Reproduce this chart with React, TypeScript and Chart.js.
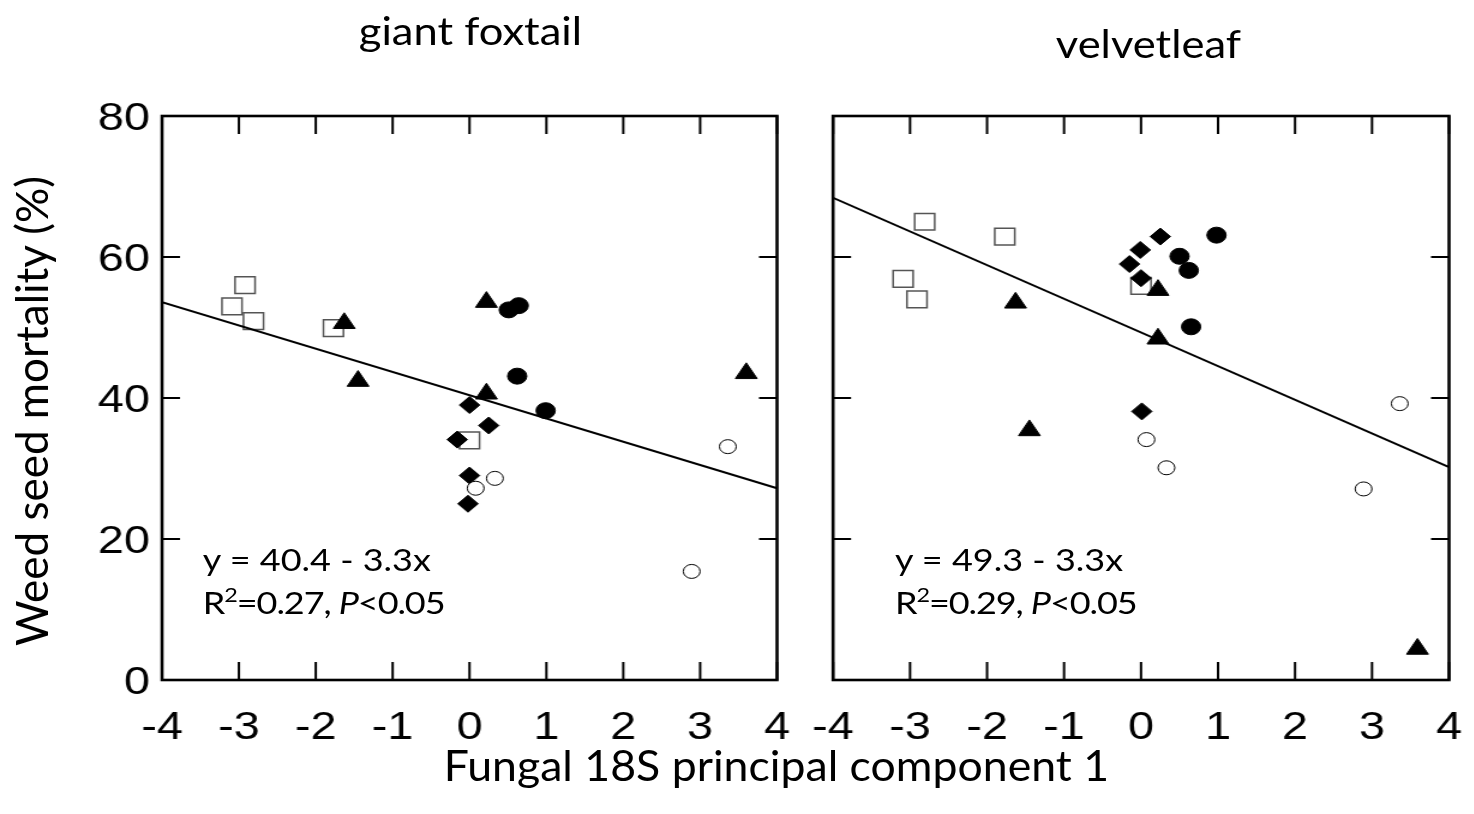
import React, { useEffect, useRef } from 'react';
import { Chart, registerables } from 'chart.js';

Chart.register(...registerables);

// ---------- data ----------
const xTickValues = [-4, -3, -2, -1, 0, 1, 2, 3, 4];
const yTickValues = [0, 20, 40, 60, 80];

const panelTitles = ['giant foxtail', 'velvetleaf'];
const yAxisTitle = 'Weed seed mortality (%)';
const xAxisTitle = 'Fungal 18S principal component 1';

// giant foxtail
const foxSquares = [
  { x: -3.09, y: 53.0 }, { x: -2.92, y: 56.0 }, { x: -2.81, y: 50.9 }, { x: -1.77, y: 49.9 }, { x: 0.0, y: 34.0 },
];
const foxDiamonds = [
  { x: 0.0, y: 39.0 }, { x: -0.16, y: 34.1 }, { x: 0.25, y: 36.1 }, { x: 0.0, y: 29.0 }, { x: -0.02, y: 25.0 },
];
const foxTriangles = [
  { x: -1.63, y: 50.6 }, { x: -1.45, y: 42.4 }, { x: 0.22, y: 53.6 }, { x: 0.22, y: 40.6 }, { x: 3.6, y: 43.5 },
];
const foxCircles = [
  { x: 0.51, y: 52.5 }, { x: 0.64, y: 53.1 }, { x: 0.62, y: 43.1 }, { x: 0.99, y: 38.2 },
];
const foxOpenCircles = [
  { x: 0.08, y: 27.2 }, { x: 0.33, y: 28.6 }, { x: 3.36, y: 33.1 }, { x: 2.89, y: 15.4 },
];
const foxFit = [{ x: -4, y: 53.6 }, { x: 4, y: 27.2 }];
const foxEquation = ['y = 40.4 - 3.3x', '0.27'];

// velvetleaf
const velSquares = [
  { x: -2.81, y: 65.0 }, { x: -1.77, y: 62.9 }, { x: -3.09, y: 56.9 }, { x: -2.91, y: 54.0 }, { x: 0.0, y: 55.9 },
];
const velDiamonds = [
  { x: 0.25, y: 62.9 }, { x: -0.01, y: 61.0 }, { x: -0.15, y: 59.0 }, { x: 0.0, y: 57.0 }, { x: 0.01, y: 38.1 },
];
const velTriangles = [
  { x: -1.63, y: 53.5 }, { x: 0.22, y: 55.3 }, { x: 0.22, y: 48.4 }, { x: -1.45, y: 35.4 }, { x: 3.59, y: 4.4 },
];
const velCircles = [
  { x: 0.98, y: 63.1 }, { x: 0.5, y: 60.1 }, { x: 0.62, y: 58.1 }, { x: 0.65, y: 50.1 },
];
const velOpenCircles = [
  { x: 0.07, y: 34.1 }, { x: 0.33, y: 30.1 }, { x: 3.36, y: 39.2 }, { x: 2.89, y: 27.1 },
];
const velFit = [{ x: -4, y: 68.4 }, { x: 4, y: 30.2 }];
const velEquation = ['y = 49.3 - 3.3x', '0.29'];

// ---------- styling ----------
const SX = 1.2; // horizontal stretch of the reference figure
const ARIAL = '"Liberation Sans", Arial, sans-serif';
const CAL = 'Lato, "Open Sans", sans-serif';

const framePlugin = {
  id: 'frameTicks',
  afterDraw(chart: any) {
    const { ctx, chartArea } = chart;
    const { left, right, top, bottom } = chartArea;
    const xs = chart.scales.x;
    const ys = chart.scales.y;
    const L = 18;
    ctx.save();
    ctx.strokeStyle = '#000';
    ctx.lineWidth = 2;
    ctx.beginPath();
    xs.ticks.forEach((t: any) => {
      const px = xs.getPixelForValue(t.value);
      ctx.moveTo(px, bottom);
      ctx.lineTo(px, bottom - L);
      ctx.moveTo(px, top);
      ctx.lineTo(px, top + L);
    });
    ys.ticks.forEach((t: any) => {
      const py = ys.getPixelForValue(t.value);
      ctx.moveTo(left, py);
      ctx.lineTo(left + L / SX, py);
      ctx.moveTo(right, py);
      ctx.lineTo(right - L / SX, py);
    });
    ctx.stroke();
    ctx.lineWidth = 2.6;
    ctx.strokeRect(left, top, right - left, bottom - top);
    ctx.restore();
  },
};

function buildConfig(
  sets: { sq: any[]; di: any[]; tr: any[]; ci: any[]; oc: any[]; fit: any[] },
  showY: boolean,
  padLeft: number,
  padRight: number
) {
  return {
    type: 'scatter',
    data: {
      datasets: [
        {
          type: 'line', data: sets.fit, borderColor: '#000', borderWidth: 2,
          pointRadius: 0, fill: false, order: 0,
        },
        {
          data: sets.oc, pointStyle: 'circle', pointRadius: 7, backgroundColor: '#fff',
          borderColor: '#000', borderWidth: 1, order: 1,
        },
        {
          data: sets.ci, pointStyle: 'circle', pointRadius: 8, backgroundColor: '#000',
          borderColor: '#000', borderWidth: 1, order: 2,
        },
        {
          data: sets.tr, pointStyle: 'triangle', pointRadius: 10.5, backgroundColor: '#000',
          borderColor: '#000', borderWidth: 1, order: 3,
        },
        {
          data: sets.di, pointStyle: 'rectRot', pointRadius: 8.5, backgroundColor: '#000',
          borderColor: '#000', borderWidth: 1, order: 4,
        },
        {
          data: sets.sq, pointStyle: 'rect', pointRadius: 11.8, backgroundColor: '#fff',
          borderColor: '#555', borderWidth: 1.5, order: 5,
        },
      ],
    },
    options: {
      animation: false,
      responsive: false,
      events: [],
      layout: { padding: { left: padLeft, right: padRight, top: 116, bottom: 74 } },
      plugins: { legend: { display: false }, tooltip: { enabled: false } },
      scales: {
        x: {
          type: 'linear', min: -4, max: 4,
          afterBuildTicks: (s: any) => { s.ticks = xTickValues.map((v) => ({ value: v })); },
          ticks: {
            font: { family: ARIAL, size: 39, lineHeight: '80px' }, color: '#000', padding: 0,
            maxRotation: 0, callback: (v: any) => String(v),
          },
          grid: { display: false },
          border: { display: false },
          afterFit: (s: any) => { s.height = 60; },
        },
        y: {
          type: 'linear', min: 0, max: 80, display: showY,
          afterBuildTicks: (s: any) => { s.ticks = yTickValues.map((v) => ({ value: v })); },
          ticks: {
            font: { family: ARIAL, size: 39 }, color: '#000', padding: 2, labelOffset: 3,
            callback: (v: any) => String(v),
          },
          grid: { display: false },
          border: { display: false },
          afterFit: (s: any) => { s.width = showY ? 135 : 0; },
        },
      },
    },
    plugins: [framePlugin],
  };
}

function Panel(props: { left: number; width: number; config: any }) {
  const ref = useRef<HTMLCanvasElement>(null);
  useEffect(() => {
    const chart = new Chart(ref.current as HTMLCanvasElement, props.config);
    return () => chart.destroy();
  }, []);
  return (
    <canvas
      ref={ref}
      width={props.width}
      height={814}
      style={{ position: 'absolute', left: props.left, top: 0, width: props.width, height: 814 }}
    />
  );
}

function Equation(props: { left: number; top: number; lines: string[] }) {
  return (
    <div
      style={{
        position: 'absolute', left: props.left, top: props.top, fontFamily: CAL,
        fontSize: 30, lineHeight: '43px', color: '#000', whiteSpace: 'nowrap',
      }}
    >
      <div>{props.lines[0]}</div>
      <div style={{ letterSpacing: '-0.9px' }}>
        R<span style={{ fontSize: '0.65em', verticalAlign: '0.6em', lineHeight: 0 }}>2</span>={props.lines[1]}, <i>P</i>&lt;0.05
      </div>
    </div>
  );
}

export default function App() {
  const cfg1 = buildConfig(
    { sq: foxSquares, di: foxDiamonds, tr: foxTriangles, ci: foxCircles, oc: foxOpenCircles, fit: foxFit },
    true, 0, 22.5
  );
  const cfg2 = buildConfig(
    { sq: velSquares, di: velDiamonds, tr: velTriangles, ci: velCircles, oc: velOpenCircles, fit: velFit },
    false, 24.2, 21.5
  );
  const titleStyle: React.CSSProperties = {
    position: 'absolute', width: 400, textAlign: 'center', fontFamily: CAL, fontSize: 39,
    lineHeight: '50px', color: '#000', whiteSpace: 'nowrap', transform: 'scaleX(0.93)',
  };
  return (
    <div style={{ position: 'fixed', left: 0, top: 0, width: 1474, height: 814, background: '#fff', overflow: 'hidden' }}>
      <div
        style={{
          position: 'absolute', left: 0, top: 0, width: 1474 / SX, height: 814,
          transform: `scaleX(${SX})`, transformOrigin: '0 0',
        }}
      >
        <Panel left={0} width={670} config={cfg1} />
        <Panel left={670} width={559} config={cfg2} />
        <div style={{ ...titleStyle, left: 391.7 - 200, top: 5 }}>{panelTitles[0]}</div>
        <div style={{ ...titleStyle, left: 956.7 - 200, top: 18 }}>{panelTitles[1]}</div>
        <div style={{ ...titleStyle, width: 800, left: 646.7 - 400, top: 740, fontSize: 42, transform: 'scaleX(0.885)' }}>
          {xAxisTitle}
        </div>
        <Equation left={169} top={538} lines={foxEquation} />
        <Equation left={745.8} top={538} lines={velEquation} />
      </div>
      <div
        style={{
          position: 'absolute', left: 31 - 300, top: 411 - 25, width: 600, height: 50,
          lineHeight: '50px', textAlign: 'center', fontFamily: CAL, fontSize: 44, color: '#000',
          transform: 'rotate(-90deg)', whiteSpace: 'nowrap',
        }}
      >
        {yAxisTitle}
      </div>
    </div>
  );
}
